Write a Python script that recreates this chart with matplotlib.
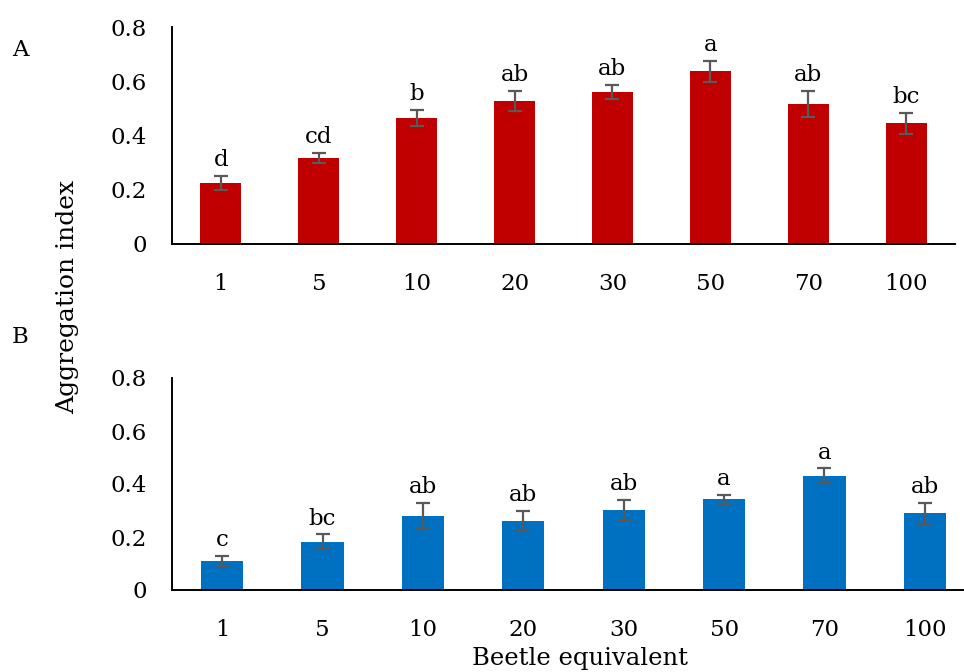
import numpy as np
import matplotlib
matplotlib.use("Agg")
from matplotlib import pyplot as plt

# beetle equivalents on the x axis
doses = ["1", "5", "10", "20", "30", "50", "70", "100"]

# panel A
mean_a = [0.225, 0.317, 0.465, 0.528, 0.560, 0.636, 0.516, 0.445]
err_a = [0.026, 0.020, 0.030, 0.037, 0.027, 0.040, 0.049, 0.039]
letters_a = ["d", "cd", "b", "ab", "ab", "a", "ab", "bc"]

# panel B
mean_b = [0.110, 0.182, 0.280, 0.260, 0.302, 0.342, 0.431, 0.290]
err_b = [0.018, 0.028, 0.050, 0.038, 0.038, 0.018, 0.028, 0.040]
letters_b = ["c", "bc", "ab", "ab", "ab", "a", "a", "ab"]

plt.rcParams["font.family"] = ["DejaVu Serif"]
plt.rcParams["font.size"] = 16.5

W, H = 964, 672
fig = plt.figure(figsize=(W / 100, H / 100), dpi=100)


def px_axes(left, top, right, bottom):
    return fig.add_axes([left / W, 1 - bottom / H, (right - left) / W, (bottom - top) / H])


def panel(ax, means, errs, letters, color):
    x = np.arange(len(doses))
    ax.bar(x, means, width=0.42, color=color, edgecolor="none", zorder=2)
    ax.errorbar(x, means, yerr=errs, fmt="none", ecolor="#595959",
                elinewidth=1.6, capsize=5, capthick=1.6, zorder=3)
    for xi, m, e, lab in zip(x, means, errs, letters):
        ax.annotate(lab, (xi, m + e), xytext=(0, 7), textcoords="offset points",
                    ha="center", va="baseline")
    ax.set_xlim(-0.5, len(doses) - 0.5)
    ax.set_ylim(0, 0.8)
    ax.set_xticks(x)
    ax.set_xticklabels(doses)
    ax.set_yticks([0, 0.2, 0.4, 0.6, 0.8])
    ax.set_yticklabels(["0", "0.2", "0.4", "0.6", "0.8"])
    ax.tick_params(axis="x", length=0, pad=21)
    ax.tick_params(axis="y", length=0, pad=18)
    for s in ["top", "right"]:
        ax.spines[s].set_visible(False)
    for s in ["left", "bottom"]:
        ax.spines[s].set_linewidth(1.4)
        ax.spines[s].set_color("black")


ax_a = px_axes(172, 27, 955, 244)
panel(ax_a, mean_a, err_a, letters_a, "#C00000")

ax_b = px_axes(172, 378, 975, 590)
panel(ax_b, mean_b, err_b, letters_b, "#0070C0")

fig.text(12 / W, 1 - 50 / H, "A", ha="left", va="center")
fig.text(12 / W, 1 - 337 / H, "B", ha="left", va="center")
fig.text(68 / W, 1 - 297 / H, "Aggregation index", rotation=90, fontsize=18,
         ha="center", va="center")
fig.text(580 / W, 1 - 659 / H, "Beetle equivalent", fontsize=17.5,
         ha="center", va="center")

fig.savefig("out.png", dpi=100)
